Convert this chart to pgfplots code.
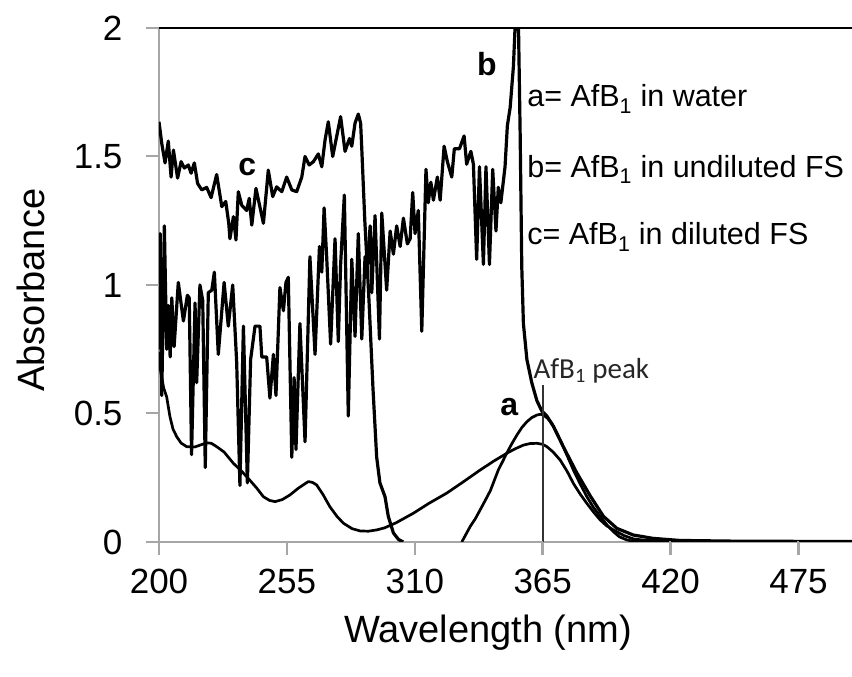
\documentclass[border=0pt]{standalone}
\usepackage{pgfplots}
\pgfplotsset{compat=1.18}
\usepackage{fontspec}
\setmainfont{Liberation Sans}
\newfontfamily\carlito{Carlito}
\begin{document}
\begin{tikzpicture}
\begin{axis}[
 name=ax, at={(0,0)}, anchor=south west,
 scale only axis, width=693pt, height=514pt,
 xmin=200, xmax=498, ymin=0, ymax=2,
 axis x line=bottom, axis y line=left,
 axis line style={draw=gray!70, line width=2pt, -},
 xtick={200,255,310,365,420,475},
 ytick={0,0.5,1,1.5,2},
 yticklabels={0,0.5,1,1.5,2},
 tick style={color=gray!70, line width=2pt},
 tick align=outside, major tick length=13pt,
 xticklabel style={font=\fontsize{35}{40}\selectfont, yshift=-11pt},
 yticklabel style={font=\fontsize{35}{40}\selectfont, xshift=-20pt},
 /pgf/number format/assume math mode=true,
 xlabel={Wavelength (nm)},
 ylabel={Absorbance},
 xlabel style={font=\fontsize{38}{44}\selectfont, at={(rel axis cs:0.4747,0)}, anchor=base, yshift=-101pt},
 ylabel style={font=\fontsize{38}{44}\selectfont, at={(rel axis cs:0,0.49)}, anchor=base, yshift=114pt},
 cycle list={{black, no markers}},
 every axis plot/.append style={line width=3.2pt, line join=round},
]
% c: AfB1 in diluted FS (upper noisy trace)
\addplot[black, no markers] coordinates {(200,1.635)(201.2,1.55)(202.6,1.475)(204,1.56)(205.2,1.42)(206.2,1.525)(208,1.416)(209.5,1.48)(210.9,1.455)(212.6,1.467)(213.8,1.435)(215.2,1.475)(216.6,1.395)(218.4,1.37)(220.5,1.38)(222.4,1.34)(224.8,1.43)(227,1.305)(228.7,1.325)(230,1.24)(230.5,1.18)(232,1.266)(233.1,1.175)(234.1,1.363)(235.6,1.31)(237.7,1.29)(238.8,1.337)(239.9,1.233)(241.7,1.376)(244.9,1.24)(247,1.447)(248.9,1.344)(250.6,1.382)(252.8,1.363)(254.9,1.42)(257.1,1.37)(259.2,1.363)(261.4,1.42)(262.8,1.5)(264.6,1.467)(266.4,1.48)(268.5,1.51)(270,1.46)(271.4,1.564)(272.8,1.635)(274.7,1.5)(276.1,1.564)(278.1,1.655)(280,1.52)(281.9,1.57)(282.9,1.54)(284.3,1.63)(285.7,1.665)(286.7,1.63)(287.2,1.53)(288.5,1.25)(290.3,0.94)(292,0.6)(293.6,0.33)(295,0.23)(297.2,0.176)(298.6,0.1)(300.8,0.035)(303,0.01)(305,0)};
% c continued: peak region
\addplot[black, no markers, line width=2.7pt] coordinates {(330.2,0)(332,0.03)(333.8,0.06)(336,0.09)(338.1,0.125)(340.3,0.162)(342.5,0.2)(344.2,0.24)(345.9,0.28)(347.7,0.312)(349.5,0.345)(351.7,0.382)(353.9,0.416)(356,0.445)(358.2,0.468)(360.3,0.484)(362.5,0.494)(364,0.497)(365.3,0.494)(367,0.482)(368.9,0.462)(371,0.425)(373.2,0.384)(375.7,0.332)(378.2,0.28)(381,0.228)(384,0.176)(386.8,0.135)(389.7,0.1)(392.5,0.068)(395.4,0.04)(398,0.02)(401.2,0.008)(404,0.003)(410,0.001)(498,0.001)};
% b: AfB1 in undiluted FS
\addplot[black, no markers] coordinates {(200,0.75)(200.5,1.2)(201.2,0.57)(202.3,1.23)(203.3,0.75)(204,0.92)(204.8,0.72)(205.5,0.95)(206.5,0.76)(208.3,1.01)(210.5,0.86)(212.2,0.96)(213,0.95)(214,0.34)(215.5,0.93)(216.2,0.62)(217.6,1.0)(218.8,0.94)(219.9,0.29)(221.2,0.97)(222.7,0.98)(223.8,1.05)(225.5,0.73)(228,1.01)(229.8,0.84)(231.7,1.0)(233.4,0.7)(234.8,0.22)(236.3,0.84)(238,0.23)(239.4,0.71)(241.3,0.84)(243.4,0.84)(244.2,0.72)(246.3,0.72)(247.7,0.56)(249.2,0.73)(250.3,0.57)(252,0.99)(253.5,0.9)(254.6,1.01)(255.6,1.03)(257.1,0.33)(258.1,0.64)(258.9,0.36)(260.6,0.85)(262.8,0.39)(264.9,1.11)(267.1,0.73)(269,1.15)(270,1.05)(271,1.3)(272.1,1.11)(273.8,0.77)(275.7,1.18)(277.1,0.78)(278.1,1.08)(279.7,1.35)(281.4,0.49)(282.9,1.1)(284.3,0.8)(285.7,1.2)(287.2,0.79)(288.6,1.11)(289.6,1.08)(290.8,1.23)(291.5,0.97)(292.9,1.27)(294.8,0.79)(295.8,1.28)(297.9,0.98)(299.4,1.21)(300.8,1.12)(302.2,1.23)(303.7,1.15)(305.1,1.26)(306.8,1.16)(308,1.18)(309.1,1.36)(310.1,1.2)(311.5,1.29)(313,0.82)(314.8,1.45)(315.8,1.32)(316.9,1.4)(318,1.33)(319.7,1.42)(320.9,1.33)(322.6,1.54)(324,1.48)(325.9,1.42)(327,1.53)(329.2,1.53)(331.2,1.58)(332.3,1.47)(334.1,1.52)(335.2,1.47)(336.6,1.1)(337.8,1.46)(339.5,1.08)(340.6,1.46)(342.1,1.08)(343.5,1.45)(344.9,1.21)(345.9,1.38)(347,1.32)(348.8,1.46)(349.8,1.62)(351,1.69)(352.4,1.85)(353.1,2.0)(353.8,2.25)(354.6,2.0)(355.3,1.59)(356,1.07)(356.7,0.85)(358.2,0.71)(360.3,0.62)(362.5,0.55)(364.6,0.51)(366.8,0.49)(369.6,0.45)(373.9,0.37)(379.6,0.27)(385.4,0.18)(391.1,0.1)(396.9,0.053)(404,0.027)(412.6,0.014)(424,0.006)(450,0.003)(498,0.002)};
% a: AfB1 in water
\addplot[black, no markers, line width=2.7pt] coordinates {(200,0.74)(200.4,0.68)(202,0.6)(203.3,0.565)(204.7,0.488)(206,0.44)(207.6,0.41)(209.5,0.385)(211.9,0.371)(215.5,0.37)(218,0.378)(220.5,0.386)(222.5,0.384)(224.8,0.371)(228,0.35)(232,0.306)(235.6,0.275)(239.1,0.24)(242,0.21)(244.9,0.176)(247.5,0.162)(249.9,0.157)(253,0.165)(256.3,0.183)(260,0.21)(264.2,0.235)(266,0.232)(267.8,0.222)(270.5,0.185)(273.5,0.137)(276.5,0.1)(279.3,0.073)(283,0.052)(286.5,0.043)(290,0.042)(293.6,0.047)(297,0.055)(302,0.075)(309.4,0.112)(316,0.15)(323.7,0.19)(331,0.235)(338.1,0.28)(344,0.315)(349.5,0.345)(353,0.362)(356.7,0.377)(359.5,0.383)(362.5,0.384)(365,0.38)(366.8,0.371)(369.5,0.35)(372.5,0.319)(375.5,0.275)(378.2,0.228)(381,0.188)(384,0.15)(387,0.115)(389.7,0.086)(392.5,0.063)(395.4,0.047)(400,0.025)(404,0.012)(409.8,0.006)(420,0.003)(440,0.002)(498,0.001)};
% AfB1 peak marker line
\addplot[black!80, no markers, line width=1.6pt] coordinates {(365,0)(365,0.611)};
\node[anchor=base west, inner sep=0, font=\fontsize{30.5}{36}\selectfont] at (axis cs:358.3,1.693) {a= AfB\textsubscript{1} in water};
\node[anchor=base west, inner sep=0, font=\fontsize{30.5}{36}\selectfont] at (axis cs:358.3,1.42) {b= AfB\textsubscript{1} in undiluted FS};
\node[anchor=base west, inner sep=0, font=\fontsize{30.5}{36}\selectfont] at (axis cs:358.3,1.156) {c= AfB\textsubscript{1} in diluted FS};
\node[anchor=base west, inner sep=0, font=\bfseries\fontsize{32}{36}\selectfont] at (axis cs:336.7,1.817) {b};
\node[anchor=base west, inner sep=0, font=\bfseries\fontsize{32}{36}\selectfont] at (axis cs:346.7,0.494) {a};
\node[anchor=base west, inner sep=0, font=\bfseries\fontsize{32}{36}\selectfont] at (axis cs:234.1,1.428) {c};
\node[anchor=base west, inner sep=0, font=\carlito\fontsize{29}{33}\selectfont, text=black!85] at (axis cs:361,0.637) {AfB\textsubscript{1} peak};
\end{axis}
\draw[black, line width=1.8pt] (ax.north west) -- (ax.north east);
% axis tick marks (furniture); the axis box's lower left corner is at (0,0)
\foreach \i in {0,1,2,3,4,5} \draw[gray!70, line width=2pt] (\i*127.8pt,1pt) -- ++(0,-14pt);
\foreach \j in {0,1,2,3,4} \draw[gray!70, line width=2pt] (0pt,\j*128.5pt) -- ++(-13pt,0);
\pgfresetboundingbox
\path (-159pt,-135pt) rectangle (693pt,542pt);
\end{tikzpicture}
\end{document}
